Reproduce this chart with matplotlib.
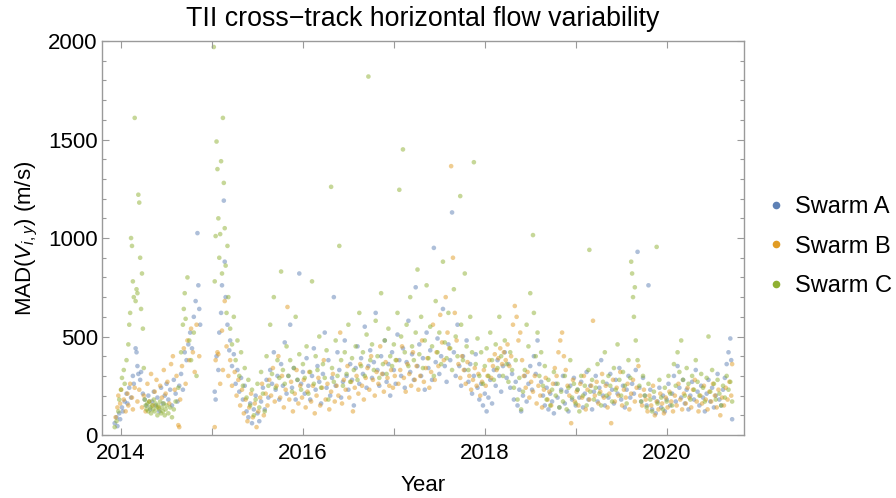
import matplotlib
matplotlib.use("Agg")
import matplotlib.pyplot as plt
from matplotlib.lines import Line2D
from matplotlib.ticker import MultipleLocator, FixedLocator

plt.rcParams['font.family'] = ['Liberation Sans', 'DejaVu Sans']
plt.rcParams['mathtext.fontset'] = 'custom'
plt.rcParams['mathtext.rm'] = 'Liberation Sans'
plt.rcParams['mathtext.it'] = 'Liberation Sans:italic'

# (decimal year, MAD in m/s)
swarm_a = [
    (2013.93, 60), (2013.95, 90), (2013.96, 45), (2013.98, 110), (2013.99, 80), (2014.01, 140),
    (2014.02, 120), (2014.04, 170), (2014.06, 210), (2014.07, 160), (2014.09, 240), (2014.11, 190),
    (2014.13, 300), (2014.14, 260), (2014.16, 440), (2014.17, 420), (2014.18, 350), (2014.19, 310),
    (2014.21, 280), (2014.22, 320), (2014.24, 210), (2014.26, 180), (2014.28, 150), (2014.30, 200),
    (2014.32, 130), (2014.34, 170), (2014.36, 220), (2014.38, 150), (2014.40, 190), (2014.42, 120),
    (2014.44, 240), (2014.46, 160), (2014.48, 200), (2014.50, 260), (2014.52, 180), (2014.54, 230),
    (2014.56, 150), (2014.58, 280), (2014.60, 210), (2014.62, 170), (2014.64, 250), (2014.66, 310),
    (2014.68, 230), (2014.70, 420), (2014.72, 380), (2014.74, 460), (2014.76, 520), (2014.78, 440),
    (2014.80, 600), (2014.82, 680), (2014.84, 1025), (2014.85, 760), (2014.86, 640), (2014.87, 560),
    (2015.03, 220), (2015.04, 180), (2015.05, 400), (2015.07, 330), (2015.08, 520), (2015.10, 620),
    (2015.11, 760), (2015.13, 1190), (2015.14, 880), (2015.15, 700), (2015.17, 560), (2015.19, 430),
    (2015.20, 480), (2015.22, 350), (2015.24, 410), (2015.26, 260), (2015.28, 330), (2015.30, 220),
    (2015.32, 290), (2015.34, 180), (2015.36, 250), (2015.38, 120), (2015.40, 90), (2015.42, 160),
    (2015.44, 60), (2015.46, 130), (2015.48, 200), (2015.50, 110), (2015.52, 70), (2015.54, 170),
    (2015.56, 240), (2015.58, 130), (2015.60, 280), (2015.62, 190), (2015.64, 330), (2015.66, 260),
    (2015.68, 420), (2015.70, 230), (2015.72, 300), (2015.74, 180), (2015.76, 360), (2015.78, 250),
    (2015.80, 470), (2015.82, 210), (2015.84, 300), (2015.86, 560), (2015.88, 240), (2015.90, 340),
    (2015.92, 180), (2015.94, 280), (2015.96, 820), (2015.98, 260),
    (2016.00, 320), (2016.02, 210), (2016.04, 390), (2016.06, 250), (2016.08, 180), (2016.10, 300),
    (2016.12, 440), (2016.14, 230), (2016.16, 350), (2016.18, 270), (2016.20, 160), (2016.22, 310),
    (2016.24, 520), (2016.26, 240), (2016.28, 380), (2016.30, 200), (2016.32, 290), (2016.34, 700),
    (2016.36, 250), (2016.38, 420), (2016.40, 330), (2016.42, 190), (2016.44, 270), (2016.46, 480),
    (2016.48, 300), (2016.50, 230), (2016.52, 360), (2016.54, 280), (2016.56, 150), (2016.58, 340),
    (2016.60, 450), (2016.62, 260), (2016.64, 390), (2016.66, 310), (2016.68, 550), (2016.70, 240),
    (2016.72, 350), (2016.74, 430), (2016.76, 290), (2016.78, 370), (2016.80, 620), (2016.82, 330),
    (2016.84, 250), (2016.86, 400), (2016.88, 310), (2016.90, 480), (2016.92, 270), (2016.94, 360),
    (2016.96, 200), (2016.98, 420),
    (2017.00, 330), (2017.02, 260), (2017.04, 510), (2017.06, 380), (2017.08, 300), (2017.10, 440),
    (2017.12, 240), (2017.14, 370), (2017.16, 580), (2017.18, 320), (2017.20, 410), (2017.22, 280),
    (2017.24, 750), (2017.26, 350), (2017.28, 460), (2017.30, 300), (2017.32, 390), (2017.34, 230),
    (2017.36, 520), (2017.38, 340), (2017.40, 430), (2017.42, 280), (2017.44, 950), (2017.46, 370),
    (2017.48, 490), (2017.50, 310), (2017.52, 400), (2017.54, 640), (2017.56, 350), (2017.58, 270),
    (2017.60, 460), (2017.62, 380), (2017.64, 1130), (2017.66, 420), (2017.68, 300), (2017.70, 560),
    (2017.72, 350), (2017.74, 250), (2017.76, 400), (2017.78, 330), (2017.80, 480), (2017.82, 270),
    (2017.84, 360), (2017.86, 210), (2017.88, 300), (2017.90, 410), (2017.92, 240), (2017.94, 180),
    (2017.96, 260), (2017.98, 150), (2018.00, 210), (2018.02, 120), (2018.04, 190), (2018.06, 280),
    (2018.08, 160), (2018.10, 330), (2018.12, 250), (2018.14, 380), (2018.16, 300), (2018.18, 220),
    (2018.20, 350), (2018.22, 420), (2018.24, 290), (2018.26, 360), (2018.28, 240), (2018.30, 310),
    (2018.32, 180), (2018.34, 270), (2018.36, 150), (2018.38, 230), (2018.40, 120), (2018.42, 200),
    (2018.44, 300), (2018.46, 170), (2018.48, 260), (2018.50, 350), (2018.52, 230), (2018.54, 400),
    (2018.56, 310), (2018.58, 480), (2018.60, 360), (2018.62, 270), (2018.64, 200), (2018.66, 150),
    (2018.68, 240), (2018.70, 130), (2018.72, 210), (2018.74, 170), (2018.76, 110), (2018.78, 260),
    (2018.80, 190), (2018.82, 140), (2018.84, 230), (2018.86, 300), (2018.88, 160), (2018.90, 220),
    (2018.92, 120), (2018.94, 250), (2018.96, 180), (2018.98, 290),
    (2019.00, 150), (2019.02, 230), (2019.04, 190), (2019.06, 270), (2019.08, 140), (2019.10, 210),
    (2019.12, 320), (2019.14, 180), (2019.16, 250), (2019.18, 130), (2019.20, 220), (2019.22, 300),
    (2019.24, 170), (2019.26, 240), (2019.28, 380), (2019.30, 200), (2019.32, 150), (2019.34, 260),
    (2019.36, 190), (2019.38, 310), (2019.40, 230), (2019.42, 160), (2019.44, 280), (2019.46, 210),
    (2019.48, 340), (2019.50, 180), (2019.52, 250), (2019.54, 140), (2019.56, 230), (2019.58, 300),
    (2019.60, 190), (2019.62, 260), (2019.64, 210), (2019.66, 330), (2019.68, 930), (2019.70, 240),
    (2019.72, 170), (2019.74, 290), (2019.76, 200), (2019.78, 150), (2019.80, 760), (2019.82, 230),
    (2019.84, 130), (2019.86, 190), (2019.88, 110), (2019.90, 170), (2019.92, 240), (2019.94, 140),
    (2019.96, 200), (2019.98, 120),
    (2020.00, 180), (2020.02, 260), (2020.04, 150), (2020.06, 210), (2020.08, 300), (2020.10, 170),
    (2020.12, 350), (2020.14, 240), (2020.16, 190), (2020.18, 280), (2020.20, 160), (2020.22, 230),
    (2020.24, 130), (2020.26, 200), (2020.28, 270), (2020.30, 180), (2020.32, 330), (2020.34, 220),
    (2020.36, 150), (2020.38, 250), (2020.40, 190), (2020.42, 120), (2020.44, 210), (2020.46, 280),
    (2020.48, 170), (2020.50, 240), (2020.52, 140), (2020.54, 200), (2020.56, 310), (2020.58, 180),
    (2020.60, 150), (2020.62, 230), (2020.64, 290), (2020.66, 360), (2020.68, 420), (2020.70, 490),
    (2020.71, 380), (2020.72, 80),
]

swarm_b = [
    (2013.94, 90), (2013.96, 140), (2013.97, 200), (2013.99, 160), (2014.00, 230), (2014.03, 180),
    (2014.05, 120), (2014.07, 210), (2014.08, 150), (2014.10, 260), (2014.12, 190), (2014.13, 130),
    (2014.15, 240), (2014.18, 170), (2014.20, 230), (2014.23, 140), (2014.25, 200), (2014.27, 120),
    (2014.29, 260), (2014.31, 170), (2014.33, 310), (2014.35, 150), (2014.37, 220), (2014.39, 280),
    (2014.41, 140), (2014.43, 250), (2014.45, 190), (2014.47, 330), (2014.49, 210), (2014.51, 270),
    (2014.53, 160), (2014.55, 360), (2014.57, 400), (2014.59, 230), (2014.61, 300), (2014.63, 50),
    (2014.64, 40), (2014.65, 180), (2014.67, 350), (2014.69, 440), (2014.71, 260), (2014.73, 480),
    (2014.75, 380), (2014.77, 540), (2014.79, 420), (2014.81, 320), (2014.83, 560), (2014.86, 400),
    (2015.03, 40), (2015.04, 380), (2015.06, 420), (2015.07, 410), (2015.09, 260), (2015.11, 530),
    (2015.12, 330), (2015.14, 680), (2015.16, 450), (2015.18, 300), (2015.20, 380), (2015.22, 250),
    (2015.25, 320), (2015.27, 200), (2015.29, 280), (2015.31, 150), (2015.33, 230), (2015.35, 110),
    (2015.37, 180), (2015.39, 70), (2015.41, 140), (2015.43, 210), (2015.45, 90), (2015.47, 160),
    (2015.49, 40), (2015.51, 120), (2015.53, 190), (2015.55, 260), (2015.57, 100), (2015.59, 210),
    (2015.61, 150), (2015.63, 280), (2015.65, 200), (2015.67, 340), (2015.69, 170), (2015.71, 250),
    (2015.73, 400), (2015.75, 190), (2015.77, 300), (2015.79, 140), (2015.81, 230), (2015.83, 650),
    (2015.85, 180), (2015.87, 270), (2015.89, 120), (2015.91, 210), (2015.93, 330), (2015.95, 160),
    (2015.97, 250), (2015.99, 190),
    (2016.01, 280), (2016.03, 140), (2016.05, 220), (2016.07, 320), (2016.09, 170), (2016.11, 250),
    (2016.13, 110), (2016.15, 200), (2016.17, 290), (2016.19, 150), (2016.21, 240), (2016.23, 380),
    (2016.25, 180), (2016.27, 260), (2016.29, 130), (2016.31, 220), (2016.33, 310), (2016.35, 170),
    (2016.37, 250), (2016.39, 200), (2016.41, 520), (2016.43, 160), (2016.45, 280), (2016.47, 230),
    (2016.49, 350), (2016.51, 190), (2016.53, 270), (2016.55, 120), (2016.57, 240), (2016.59, 300),
    (2016.61, 210), (2016.63, 360), (2016.65, 250), (2016.67, 180), (2016.69, 290), (2016.71, 340),
    (2016.73, 230), (2016.75, 400), (2016.77, 280), (2016.79, 200), (2016.81, 320), (2016.83, 260),
    (2016.85, 450), (2016.87, 310), (2016.89, 220), (2016.91, 370), (2016.93, 290), (2016.95, 250),
    (2016.97, 330), (2016.99, 240),
    (2017.01, 300), (2017.03, 380), (2017.05, 260), (2017.07, 330), (2017.09, 450), (2017.11, 290),
    (2017.13, 220), (2017.15, 360), (2017.17, 310), (2017.19, 250), (2017.21, 420), (2017.23, 280),
    (2017.25, 350), (2017.27, 230), (2017.29, 300), (2017.31, 480), (2017.33, 270), (2017.35, 340),
    (2017.37, 390), (2017.39, 240), (2017.41, 320), (2017.43, 560), (2017.45, 280), (2017.47, 420),
    (2017.49, 350), (2017.51, 610), (2017.53, 470), (2017.55, 380), (2017.57, 700), (2017.59, 520),
    (2017.61, 440), (2017.63, 1365), (2017.65, 900), (2017.67, 620), (2017.69, 480), (2017.71, 360),
    (2017.73, 290), (2017.75, 400), (2017.77, 330), (2017.79, 260), (2017.81, 370), (2017.83, 300),
    (2017.85, 230), (2017.87, 280), (2017.89, 340), (2017.91, 250), (2017.93, 310), (2017.95, 200),
    (2017.97, 270), (2017.99, 330), (2018.01, 250), (2018.03, 300), (2018.05, 380), (2018.07, 290),
    (2018.09, 350), (2018.11, 410), (2018.13, 330), (2018.15, 390), (2018.17, 440), (2018.19, 360),
    (2018.21, 420), (2018.23, 380), (2018.25, 460), (2018.27, 350), (2018.29, 400), (2018.31, 560),
    (2018.33, 655), (2018.35, 600), (2018.37, 480), (2018.39, 520), (2018.41, 380), (2018.43, 300),
    (2018.45, 240), (2018.47, 320), (2018.49, 190), (2018.51, 270), (2018.53, 220), (2018.55, 300),
    (2018.57, 160), (2018.59, 250), (2018.61, 200), (2018.63, 140), (2018.65, 230), (2018.67, 290),
    (2018.69, 180), (2018.71, 220), (2018.73, 150), (2018.75, 260), (2018.77, 340), (2018.79, 300),
    (2018.81, 420), (2018.83, 480), (2018.85, 520), (2018.87, 400), (2018.89, 330), (2018.91, 250),
    (2018.93, 200), (2018.95, 60), (2018.97, 280), (2018.99, 170),
    (2019.01, 220), (2019.03, 150), (2019.05, 260), (2019.07, 190), (2019.09, 300), (2019.11, 130),
    (2019.13, 230), (2019.15, 180), (2019.17, 250), (2019.19, 580), (2019.21, 200), (2019.23, 270),
    (2019.25, 160), (2019.27, 220), (2019.29, 310), (2019.31, 190), (2019.33, 250), (2019.35, 140),
    (2019.37, 210), (2019.39, 60), (2019.41, 280), (2019.43, 170), (2019.45, 240), (2019.47, 200),
    (2019.49, 320), (2019.51, 150), (2019.53, 230), (2019.55, 190), (2019.57, 260), (2019.59, 130),
    (2019.61, 210), (2019.63, 280), (2019.65, 170), (2019.67, 240), (2019.69, 350), (2019.71, 200),
    (2019.73, 150), (2019.75, 230), (2019.77, 180), (2019.79, 120), (2019.81, 200), (2019.83, 150),
    (2019.85, 250), (2019.87, 100), (2019.89, 170), (2019.91, 130), (2019.93, 210), (2019.95, 160),
    (2019.97, 110), (2019.99, 190),
    (2020.01, 140), (2020.03, 220), (2020.05, 170), (2020.07, 120), (2020.09, 200), (2020.11, 150),
    (2020.13, 260), (2020.15, 180), (2020.17, 130), (2020.19, 210), (2020.21, 160), (2020.23, 240),
    (2020.25, 190), (2020.27, 140), (2020.29, 230), (2020.31, 280), (2020.33, 170), (2020.35, 120),
    (2020.37, 200), (2020.39, 160), (2020.41, 250), (2020.43, 180), (2020.45, 130), (2020.47, 220),
    (2020.49, 170), (2020.51, 260), (2020.53, 200), (2020.55, 140), (2020.57, 230), (2020.59, 100),
    (2020.61, 190), (2020.63, 150), (2020.65, 240), (2020.67, 180), (2020.69, 270), (2020.71, 200),
    (2020.72, 360),
]

swarm_c = [
    (2013.93, 40), (2013.95, 70), (2013.97, 120), (2013.98, 180), (2014.00, 230), (2014.01, 290),
    (2014.03, 330), (2014.04, 260), (2014.06, 380), (2014.08, 460), (2014.09, 560), (2014.10, 620),
    (2014.11, 1000), (2014.12, 960), (2014.13, 780), (2014.14, 700), (2014.15, 1610), (2014.16, 680),
    (2014.17, 740), (2014.18, 720), (2014.19, 1220), (2014.20, 1180), (2014.21, 900), (2014.22, 640),
    (2014.23, 820), (2014.24, 540), (2014.25, 340), (2014.26, 180), (2014.27, 150), (2014.28, 130),
    (2014.29, 160), (2014.30, 120), (2014.31, 170), (2014.32, 140), (2014.33, 110), (2014.34, 150),
    (2014.35, 130), (2014.36, 180), (2014.37, 120), (2014.38, 160), (2014.39, 140), (2014.40, 100),
    (2014.41, 150), (2014.42, 130), (2014.43, 170), (2014.44, 110), (2014.45, 140), (2014.46, 120),
    (2014.47, 160), (2014.48, 100), (2014.49, 130), (2014.50, 150), (2014.52, 110), (2014.54, 140),
    (2014.56, 90), (2014.58, 130), (2014.60, 170), (2014.63, 240), (2014.66, 420), (2014.68, 560),
    (2014.69, 640), (2014.70, 720), (2014.71, 590), (2014.73, 800), (2014.75, 480), (2014.77, 380),
    (2014.80, 520), (2014.83, 300),
    (2015.02, 1970), (2015.03, 780), (2015.04, 1010), (2015.05, 1490), (2015.06, 1350), (2015.07, 1100),
    (2015.08, 900), (2015.09, 1020), (2015.10, 1390), (2015.11, 820), (2015.12, 1610), (2015.13, 1280),
    (2015.14, 1050), (2015.15, 860), (2015.16, 620), (2015.17, 960), (2015.18, 700), (2015.20, 540),
    (2015.22, 460), (2015.24, 600), (2015.26, 380), (2015.28, 480), (2015.30, 300), (2015.32, 420),
    (2015.34, 250), (2015.36, 340), (2015.38, 190), (2015.40, 280), (2015.42, 150), (2015.44, 230),
    (2015.46, 100), (2015.48, 180), (2015.50, 260), (2015.52, 140), (2015.54, 320), (2015.56, 210),
    (2015.58, 120), (2015.60, 400), (2015.62, 250), (2015.64, 560), (2015.66, 310), (2015.68, 700),
    (2015.70, 240), (2015.72, 380), (2015.74, 290), (2015.76, 830), (2015.78, 330), (2015.80, 260),
    (2015.82, 450), (2015.84, 300), (2015.86, 380), (2015.88, 220), (2015.90, 340), (2015.92, 600),
    (2015.94, 280), (2015.96, 410), (2015.98, 230),
    (2016.00, 360), (2016.02, 290), (2016.04, 450), (2016.06, 210), (2016.08, 320), (2016.10, 780),
    (2016.12, 260), (2016.14, 400), (2016.16, 330), (2016.18, 500), (2016.20, 240), (2016.22, 360),
    (2016.24, 290), (2016.26, 430), (2016.28, 180), (2016.31, 1260), (2016.32, 340), (2016.34, 270),
    (2016.36, 480), (2016.38, 300), (2016.40, 960), (2016.42, 380), (2016.44, 250), (2016.46, 420),
    (2016.48, 310), (2016.50, 560), (2016.52, 270), (2016.54, 390), (2016.56, 330), (2016.58, 450),
    (2016.60, 280), (2016.62, 620), (2016.64, 350), (2016.66, 420), (2016.68, 300), (2016.70, 510),
    (2016.72, 1820), (2016.74, 380), (2016.76, 460), (2016.78, 330), (2016.80, 580), (2016.82, 400),
    (2016.84, 290), (2016.86, 720), (2016.88, 360), (2016.90, 480), (2016.92, 310), (2016.94, 540),
    (2016.96, 400), (2016.98, 350),
    (2017.00, 460), (2017.02, 380), (2017.04, 620), (2017.06, 1245), (2017.08, 500), (2017.10, 1450),
    (2017.12, 420), (2017.14, 560), (2017.16, 350), (2017.18, 700), (2017.20, 450), (2017.22, 380),
    (2017.24, 520), (2017.26, 840), (2017.28, 410), (2017.30, 600), (2017.32, 340), (2017.34, 480),
    (2017.36, 760), (2017.38, 390), (2017.40, 550), (2017.42, 450), (2017.44, 300), (2017.46, 680),
    (2017.48, 420), (2017.50, 520), (2017.52, 360), (2017.54, 880), (2017.56, 470), (2017.58, 390),
    (2017.60, 620), (2017.62, 440), (2017.64, 330), (2017.66, 740), (2017.68, 500), (2017.70, 400),
    (2017.73, 1213), (2017.74, 560), (2017.76, 380), (2017.78, 820), (2017.80, 450), (2017.82, 330),
    (2017.84, 600), (2017.86, 420), (2017.88, 1385), (2017.90, 360), (2017.92, 490), (2017.94, 300),
    (2017.96, 420), (2017.98, 260), (2018.00, 350), (2018.02, 440), (2018.04, 300), (2018.06, 520),
    (2018.08, 380), (2018.10, 280), (2018.12, 460), (2018.14, 340), (2018.16, 600), (2018.18, 400),
    (2018.20, 300), (2018.22, 480), (2018.24, 360), (2018.26, 270), (2018.28, 420), (2018.30, 330),
    (2018.32, 240), (2018.34, 380), (2018.36, 180), (2018.38, 290), (2018.40, 130), (2018.42, 220),
    (2018.44, 330), (2018.46, 560), (2018.48, 450), (2018.50, 720), (2018.53, 1015), (2018.54, 620),
    (2018.56, 400), (2018.58, 520), (2018.60, 300), (2018.62, 420), (2018.64, 250), (2018.66, 350),
    (2018.68, 180), (2018.70, 280), (2018.72, 150), (2018.74, 230), (2018.76, 320), (2018.78, 200),
    (2018.80, 260), (2018.82, 140), (2018.84, 220), (2018.86, 170), (2018.88, 300), (2018.90, 130),
    (2018.92, 240), (2018.94, 380), (2018.96, 190), (2018.98, 260),
    (2019.00, 160), (2019.02, 230), (2019.04, 120), (2019.06, 300), (2019.08, 200), (2019.10, 250),
    (2019.12, 150), (2019.14, 330), (2019.15, 940), (2019.16, 220), (2019.18, 280), (2019.20, 180),
    (2019.22, 240), (2019.24, 360), (2019.26, 210), (2019.28, 150), (2019.30, 270), (2019.32, 420),
    (2019.34, 200), (2019.36, 300), (2019.38, 250), (2019.40, 170), (2019.42, 340), (2019.44, 230),
    (2019.46, 460), (2019.48, 280), (2019.50, 200), (2019.52, 320), (2019.54, 250), (2019.56, 160),
    (2019.58, 380), (2019.60, 290), (2019.61, 880), (2019.62, 820), (2019.63, 700), (2019.64, 600),
    (2019.65, 750), (2019.66, 480), (2019.68, 380), (2019.70, 250), (2019.72, 170), (2019.74, 300),
    (2019.76, 200), (2019.78, 140), (2019.80, 260), (2019.82, 180), (2019.84, 120), (2019.86, 220),
    (2019.89, 955), (2019.90, 160), (2019.92, 280), (2019.94, 190), (2019.96, 130), (2019.98, 240),
    (2020.00, 170), (2020.02, 300), (2020.04, 210), (2020.06, 150), (2020.08, 360), (2020.10, 250),
    (2020.12, 420), (2020.14, 320), (2020.16, 480), (2020.18, 280), (2020.20, 200), (2020.22, 340),
    (2020.24, 260), (2020.26, 180), (2020.28, 300), (2020.30, 230), (2020.32, 380), (2020.34, 270),
    (2020.36, 200), (2020.38, 310), (2020.40, 240), (2020.42, 170), (2020.44, 290), (2020.46, 500),
    (2020.48, 220), (2020.50, 330), (2020.52, 260), (2020.54, 180), (2020.56, 280), (2020.58, 210),
    (2020.60, 150), (2020.62, 250), (2020.64, 190), (2020.66, 300), (2020.68, 230), (2020.70, 270),
    (2020.72, 170),
]

series_names = ['Swarm A', 'Swarm B', 'Swarm C']
series_colors = ['#5E81B5', '#E19C24', '#8FB032']
year_ticks = [2014, 2015, 2016, 2017, 2018, 2019, 2020]
year_labels = ['2014', '', '2016', '', '2018', '', '2020']

frame_gray = '#9a9a9a'

fig = plt.figure(figsize=(8.96, 4.98), dpi=100)
ax = fig.add_axes([0.1138, 0.1265, 0.7165, 0.791])

for data, color in zip([swarm_a, swarm_b, swarm_c], series_colors):
    xs = [p[0] for p in data]
    ys = [p[1] for p in data]
    ax.scatter(xs, ys, s=11, color=color, alpha=0.5, edgecolors='none')

ax.set_xlim(2013.79, 2020.85)
ax.set_ylim(0, 2000)
ax.xaxis.set_major_locator(FixedLocator(year_ticks))
ax.set_xticklabels(year_labels)
ax.yaxis.set_major_locator(MultipleLocator(500))
ax.yaxis.set_minor_locator(MultipleLocator(100))

for side in ax.spines.values():
    side.set_color(frame_gray)
    side.set_linewidth(1.0)
ax.tick_params(which='both', direction='in', top=True, right=True, color=frame_gray,
               labelsize=16, labelcolor='black', width=0.8)
ax.tick_params(axis='x', which='major', length=5, pad=6)
ax.tick_params(axis='y', which='major', length=5, pad=3)
ax.tick_params(which='minor', length=3)

ax.set_title('TII cross\u2212track horizontal flow variability', fontsize=19.3, pad=11)
ax.set_xlabel('Year', fontsize=16, labelpad=8)
ax.set_ylabel(r'MAD($V_{i,y}$) (m/s)', fontsize=16, labelpad=6)

handles = [Line2D([], [], marker='o', linestyle='none', markersize=5.5,
                  markerfacecolor=c, markeredgecolor='none') for c in series_colors]
fig.legend(handles, series_names, loc='center left', bbox_to_anchor=(0.856, 0.505),
           frameon=False, fontsize=17, handlelength=0.8, handletextpad=0.4,
           labelspacing=0.75, borderaxespad=0, borderpad=0)

fig.savefig('out.png', dpi=100)
